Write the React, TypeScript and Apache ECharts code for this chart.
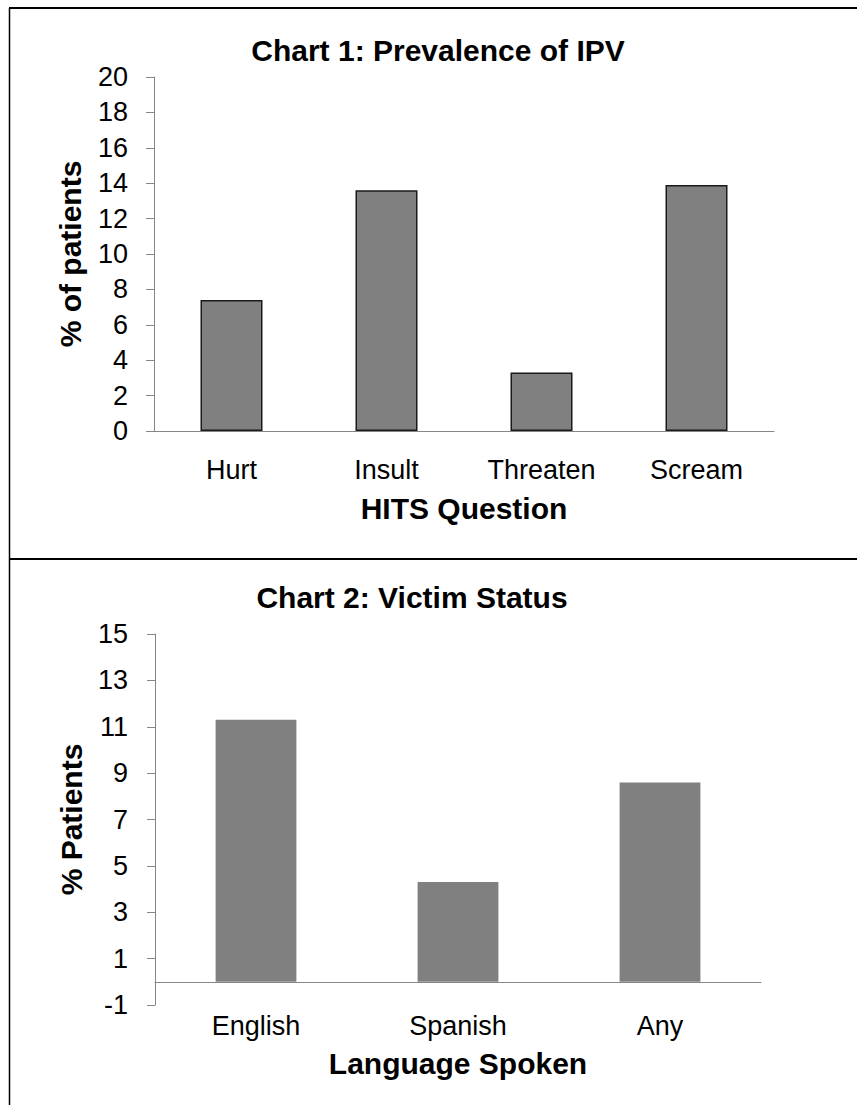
import React, { useEffect, useRef } from "react";
import * as echarts from "echarts";

// Chart 1: Prevalence of IPV
const hitsQuestions = ["Hurt", "Insult", "Threaten", "Scream"];
const hitsPercent = [7.4, 13.6, 3.3, 13.9];

// Chart 2: Victim Status
const languages = ["English", "Spanish", "Any"];
const victimPercent = [11.3, 4.3, 8.6];

const FONT = "'Liberation Sans', Arial, sans-serif";
const AXIS_GREY = "#868686";

export default function App() {
  const ref = useRef<HTMLDivElement>(null);

  useEffect(() => {
    document.body.style.margin = "0";
    const chart = echarts.init(ref.current!, null, { renderer: "svg" });

    const tickLabel = { fontFamily: FONT, fontSize: 27, color: "#000" };
    const axisName = { fontFamily: FONT, fontSize: 30, fontWeight: "bold" as const, color: "#000" };

    chart.setOption({
      animation: false,
      backgroundColor: "#fff",
      grid: [
        { left: 154, right: 83, top: 77, bottom: 674 },
        { left: 155, right: 96, top: 634, bottom: 100 },
      ],
      xAxis: [
        {
          gridIndex: 0,
          type: "category",
          data: hitsQuestions,
          axisLine: { lineStyle: { color: AXIS_GREY, width: 1 } },
          axisTick: { length: 8, lineStyle: { color: AXIS_GREY } },
          axisLabel: { ...tickLabel, margin: 25 },
          name: "HITS Question",
          nameLocation: "middle",
          nameGap: 62,
          nameTextStyle: axisName,
        },
        {
          gridIndex: 1,
          type: "category",
          data: languages,
          axisLine: { onZero: true, lineStyle: { color: AXIS_GREY, width: 1 } },
          axisTick: { length: 8, lineStyle: { color: AXIS_GREY } },
          axisLabel: { ...tickLabel, margin: 7 },
          name: "Language Spoken",
          nameLocation: "middle",
          nameGap: 43,
          nameTextStyle: axisName,
        },
      ],
      yAxis: [
        {
          gridIndex: 0,
          type: "value",
          min: 0,
          max: 20,
          interval: 2,
          axisLine: { show: true, lineStyle: { color: AXIS_GREY, width: 1 } },
          axisTick: { show: true, length: 8, lineStyle: { color: AXIS_GREY } },
          splitLine: { show: false },
          axisLabel: { ...tickLabel, margin: 26 },
          name: "% of patients",
          nameLocation: "middle",
          nameGap: 69,
          nameTextStyle: axisName,
        },
        {
          gridIndex: 1,
          type: "value",
          min: -1,
          max: 15,
          interval: 2,
          axisLine: { show: true, lineStyle: { color: AXIS_GREY, width: 1 } },
          axisTick: { show: true, length: 8, lineStyle: { color: AXIS_GREY } },
          splitLine: { show: false },
          axisLabel: { ...tickLabel, margin: 27 },
          name: "% Patients",
          nameLocation: "middle",
          nameGap: 69,
          nameTextStyle: axisName,
        },
      ],
      series: [
        {
          type: "bar",
          xAxisIndex: 0,
          yAxisIndex: 0,
          data: hitsPercent,
          barWidth: "40%",
          itemStyle: { color: "#808080", borderColor: "#1a1a1a", borderWidth: 1.5 },
        },
        {
          type: "bar",
          xAxisIndex: 1,
          yAxisIndex: 1,
          data: victimPercent,
          barWidth: "40%",
          itemStyle: { color: "#808080" },
        },
      ],
      graphic: [
        // panel frame
        { type: "line", shape: { x1: 9, y1: 8, x2: 857, y2: 8 }, style: { stroke: "#000", lineWidth: 2 } },
        { type: "line", shape: { x1: 9.5, y1: 8, x2: 9.5, y2: 1105 }, style: { stroke: "#000", lineWidth: 1.5 } },
        { type: "line", shape: { x1: 9, y1: 559, x2: 857, y2: 559 }, style: { stroke: "#000", lineWidth: 2 } },
        {
          type: "text",
          x: 438,
          y: 50,
          style: {
            text: "Chart 1: Prevalence of IPV",
            font: `bold 30px ${FONT}`,
            fill: "#000",
            textAlign: "center",
            textVerticalAlign: "middle",
          },
        },
        {
          type: "text",
          x: 412,
          y: 597,
          style: {
            text: "Chart 2: Victim Status",
            font: `bold 30px ${FONT}`,
            fill: "#000",
            textAlign: "center",
            textVerticalAlign: "middle",
          },
        },
      ],
    });

    return () => chart.dispose();
  }, []);

  return <div ref={ref} style={{ width: 857, height: 1105 }} />;
}
